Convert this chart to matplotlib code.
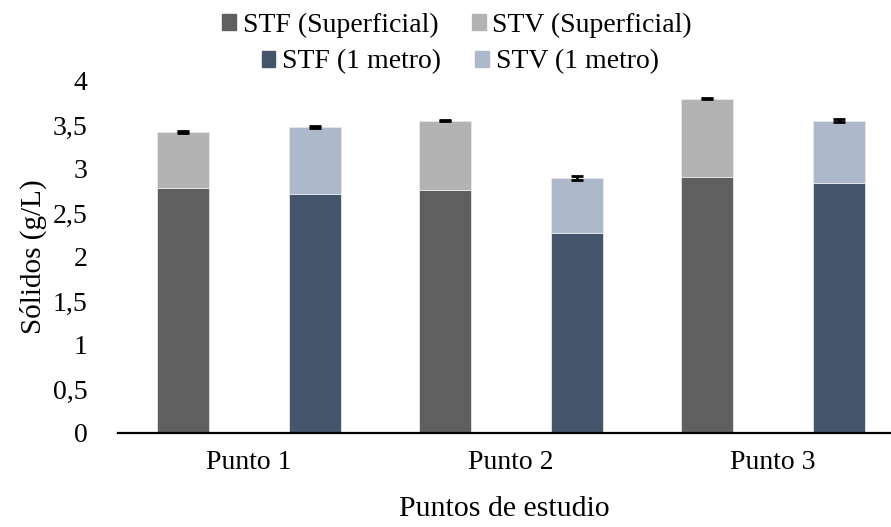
import matplotlib
matplotlib.use("Agg")
import matplotlib.pyplot as plt
from matplotlib.patches import Patch
import numpy as np

plt.rcParams['font.family'] = ['Liberation Serif', 'DejaVu Serif']

categories = ["Punto 1", "Punto 2", "Punto 3"]
stf_sup = [2.78, 2.76, 2.91]
stv_sup = [0.64, 0.79, 0.89]
err_sup = [0.01, 0.01, 0.01]
stf_1m = [2.72, 2.27, 2.84]
stv_1m = [0.76, 0.63, 0.71]
err_1m = [0.01, 0.02, 0.02]
yticks = [0, 0.5, 1, 1.5, 2, 2.5, 3, 3.5, 4]
ytick_labels = ["0", "0,5", "1", "1,5", "2", "2,5", "3", "3,5", "4"]

c_stf_sup = "#5f5f5f"
c_stv_sup = "#b3b3b3"
c_stf_1m = "#44546a"
c_stv_1m = "#adb9ca"

fig = plt.figure(figsize=(8.91, 5.27), dpi=100)
ax = fig.add_axes([118/891, 1-433/527, 1-118/891, (433-81)/527])

x = np.arange(len(categories))
off = 0.252
w = 0.20
ec = "#e8e8e8"
ax.bar(x - off, stf_sup, w, color=c_stf_sup, edgecolor=ec, linewidth=0.6)
ax.bar(x - off, stv_sup, w, bottom=stf_sup, color=c_stv_sup, edgecolor=ec, linewidth=0.6)
ax.bar(x + off, stf_1m, w, color=c_stf_1m, edgecolor=ec, linewidth=0.6)
ax.bar(x + off, stv_1m, w, bottom=stf_1m, color=c_stv_1m, edgecolor=ec, linewidth=0.6)

tot_sup = np.array(stf_sup) + np.array(stv_sup)
tot_1m = np.array(stf_1m) + np.array(stv_1m)
ax.errorbar(x - off, tot_sup, yerr=err_sup, fmt='none', ecolor='black', capsize=4.5, capthick=2, elinewidth=2)
ax.errorbar(x + off, tot_1m, yerr=err_1m, fmt='none', ecolor='black', capsize=4.5, capthick=2, elinewidth=2)

ax.set_xlim(-0.5, (891-118)/262 - 0.5)
ax.set_ylim(0, 4)
ax.set_yticks(yticks)
ax.set_yticklabels(ytick_labels)
ax.set_xticks(x)
ax.set_xticklabels(categories)
ax.tick_params(axis='y', length=0, pad=22, labelsize=20)
ax.tick_params(axis='x', length=0, pad=12, labelsize=20)
for s in ['top', 'right', 'left']:
    ax.spines[s].set_visible(False)
ax.spines['bottom'].set_linewidth(1.6)
ax.spines['bottom'].set_color('black')

ax.set_ylabel("Sólidos (g/L)", fontsize=21, labelpad=4)
ax.set_xlabel("Puntos de estudio", fontsize=21.5, labelpad=15)

h1 = [Patch(color=c_stf_sup), Patch(color=c_stv_sup)]
h2 = [Patch(color=c_stf_1m), Patch(color=c_stv_1m)]
kw = dict(ncol=2, loc='center', frameon=False, fontsize=20,
          handlelength=0.5, handleheight=0.5, handletextpad=0.25, columnspacing=1.2,
          borderpad=0)
leg1 = fig.legend(h1, ["STF (Superficial)", "STV (Superficial)"],
                  bbox_to_anchor=(457/891, 1-25/527), **kw)
leg2 = fig.legend(h2, ["STF (1 metro)", "STV (1 metro)"],
                  bbox_to_anchor=(460/891, 1-62/527), **kw)

fig.savefig("out.png", dpi=100)
